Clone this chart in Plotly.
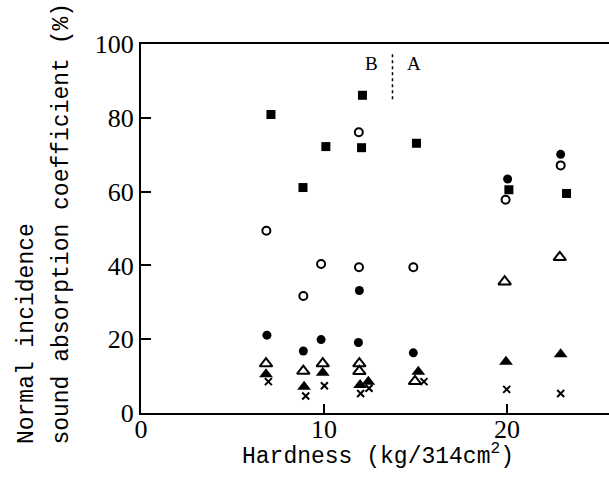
import plotly.graph_objects as go

# Hardness (kg/314cm^2) and normal incidence sound absorption coefficient (%)
sq_x = [7.1, 8.85, 10.1, 12.1, 12.05, 15.05, 20.1, 23.25]
sq_y = [80.9, 61.1, 72.2, 86.1, 71.9, 73.1, 60.5, 59.5]

oc_x = [6.85, 8.87, 9.84, 11.9, 11.91, 14.88, 19.92, 22.93]
oc_y = [49.4, 31.7, 40.4, 76.1, 39.5, 39.5, 57.8, 67.1]

fc_x = [6.88, 8.87, 9.84, 11.93, 11.88, 14.88, 20.03, 22.93]
fc_y = [21.1, 16.8, 19.9, 33.2, 19.1, 16.3, 63.4, 70.1]

ot_x = [6.83, 8.87, 9.93, 11.93, 11.93, 14.97, 19.87, 22.88]
ot_y = [13.4, 11.35, 13.4, 13.4, 11.3, 8.6, 35.6, 42.2]

ft_x = [6.83, 8.91, 9.93, 11.97, 12.42, 15.15, 19.94, 22.93]
ft_y = [10.5, 7.1, 10.9, 7.6, 8.5, 11.2, 13.9, 15.9]

cr_x = [6.96, 9.0, 10.02, 12.0, 12.46, 15.46, 19.98, 22.93]
cr_y = [8.5, 4.6, 7.4, 5.3, 6.7, 8.5, 6.4, 5.3]

boundary_x = [13.74, 13.74]
boundary_y = [85.0, 97.5]
region_labels = ["B", "A"]
region_x = [12.6, 14.9]
region_y = [94.6, 94.6]

x_ticks = [0, 10, 20]
y_ticks = [0, 20, 40, 60, 80, 100]

fig = go.Figure()

def add(xs, ys, symbol, size, lw=0):
    fig.add_trace(go.Scatter(
        x=xs, y=ys, mode="markers", showlegend=False,
        marker=dict(symbol=symbol, size=size, color="black",
                    line=dict(color="black", width=lw)),
    ))

add(sq_x, sq_y, "square", 9)
add(oc_x, oc_y, "circle-open", 8, 2)
add(fc_x, fc_y, "circle", 9)
add(ot_x, ot_y, "triangle-up-open", 11, 2)
add(ft_x, ft_y, "triangle-up", 12)
add(cr_x, cr_y, "x-thin-open", 7, 2)

fig.add_trace(go.Scatter(
    x=boundary_x, y=boundary_y, mode="lines", showlegend=False,
    line=dict(color="black", width=1.5, dash="dot"),
))

for t, xv, yv in zip(region_labels, region_x, region_y):
    fig.add_annotation(x=xv, y=yv, xref="x", yref="y", text=t, showarrow=False,
                       font=dict(family="Liberation Serif", size=19, color="black"))

title_font = dict(family="Liberation Mono", size=23, color="black")
fig.add_annotation(xref="paper", yref="paper", x=-0.245, y=-0.09,
                   xanchor="center", yanchor="bottom", textangle=-90,
                   text="Normal incidence", showarrow=False, font=title_font)
fig.add_annotation(xref="paper", yref="paper", x=-0.168, y=-0.09,
                   xanchor="center", yanchor="bottom", textangle=-90,
                   text="sound absorption coefficient (%)", showarrow=False, font=title_font)
fig.add_annotation(xref="paper", yref="paper", x=(378 - 141) / 468, y=-0.115,
                   xanchor="center", yanchor="middle",
                   text="Hardness (kg/314cm<sup>2</sup>)", showarrow=False, font=title_font)

tick_font = dict(family="Liberation Serif", size=26, color="black")
fig.update_layout(
    width=609, height=483,
    margin=dict(l=141, r=0, t=44, b=70),
    paper_bgcolor="white", plot_bgcolor="white",
    xaxis=dict(range=[0, 25.57], tickvals=x_ticks, showgrid=False, zeroline=False,
               showline=True, linecolor="black", linewidth=2, mirror=True,
               ticks="inside", ticklen=9, tickwidth=2, tickcolor="black",
               tickfont=tick_font, ticklabelstandoff=-8),
    yaxis=dict(range=[0, 100], tickvals=y_ticks, showgrid=False, zeroline=False,
               showline=True, linecolor="black", linewidth=2, mirror=False,
               ticks="inside", ticklen=10, tickwidth=2, tickcolor="black",
               tickfont=tick_font),
)

fig.write_html("out.html")
